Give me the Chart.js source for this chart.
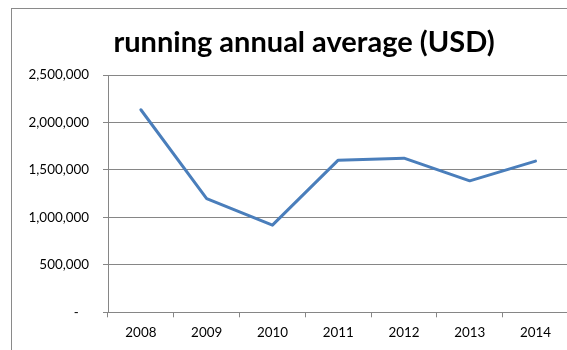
<!DOCTYPE html>
<html>
<head>
<meta charset="utf-8">
<script src="https://cdn.jsdelivr.net/npm/chart.js@4/dist/chart.umd.min.js"></script>
<style>
  html, body { margin: 0; padding: 0; background: #fff; overflow: hidden; }
  body { width: 567px; height: 350px; position: relative; }
  #frame {
    position: absolute; left: 11px; top: 8px; width: 700px; height: 400px;
    border-left: 1px solid #8a8a8a; border-top: 1px solid #8a8a8a;
    box-sizing: border-box;
  }
  #wrap { position: absolute; left: 0; top: 0; width: 608px; height: 350px; }
</style>
</head>
<body>
<div id="frame"></div>
<div id="wrap"><canvas id="chart"></canvas></div>
<script>
// Years on the category axis
const years = ['2008', '2009', '2010', '2011', '2012', '2013', '2014'];
// Running annual average, USD
const runningAverage = [2134000, 1198000, 918000, 1603000, 1624000, 1385000, 1593000];
// Value axis ticks
const yTicks = [0, 500000, 1000000, 1500000, 2000000, 2500000];

const gridGray = '#868686';
const labelFont = { family: 'Lato', size: 13.4 };

// Center the title across the whole canvas rather than the padded area
const fullWidthTitle = {
  id: 'fullWidthTitle',
  afterLayout(chart) {
    const t = chart.titleBlock;
    if (t) { t.left = 0; t.right = chart.width; t.width = chart.width; }
  }
};

new Chart(document.getElementById('chart'), {
  type: 'line',
  data: {
    labels: years,
    datasets: [{
      label: 'running annual average (USD)',
      data: runningAverage,
      borderColor: '#4a7ebb',
      borderWidth: 3,
      pointRadius: 0,
      tension: 0,
      borderJoinStyle: 'round',
      borderCapStyle: 'round'
    }]
  },
  plugins: [fullWidthTitle],
  options: {
    responsive: true,
    maintainAspectRatio: false,
    animation: false,
    layout: { padding: { left: 0, right: 39.6, top: 0, bottom: 0 } },
    plugins: {
      legend: { display: false },
      tooltip: { enabled: false },
      title: {
        display: true,
        text: 'running annual average (USD)',
        color: '#000',
        font: { family: 'Lato', size: 29, weight: 'bold', lineHeight: 1.2 },
        padding: { top: 25.1, bottom: 15.1 }
      }
    },
    scales: {
      x: {
        offset: true,
        grid: {
          offset: true,
          drawOnChartArea: false,
          drawTicks: true,
          tickLength: 5,
          color: gridGray
        },
        border: { color: gridGray, width: 1 },
        ticks: { color: '#000', font: labelFont, padding: 7, maxRotation: 0 },
        afterFit: (s) => { s.height = 37.7; }
      },
      y: {
        min: 0,
        max: 2500000,
        afterBuildTicks: (s) => { s.ticks = yTicks.map(v => ({ value: v })); },
        grid: { color: gridGray, lineWidth: 1, tickLength: 5 },
        border: { color: gridGray, width: 1 },
        ticks: {
          color: '#000',
          font: labelFont,
          padding: 14,
          callback: (v) => v === 0 ? '-   ' : Number(v).toLocaleString('en-US')
        },
        afterFit: (s) => { s.width = 108; }
      }
    }
  }
});
</script>
</body>
</html>
